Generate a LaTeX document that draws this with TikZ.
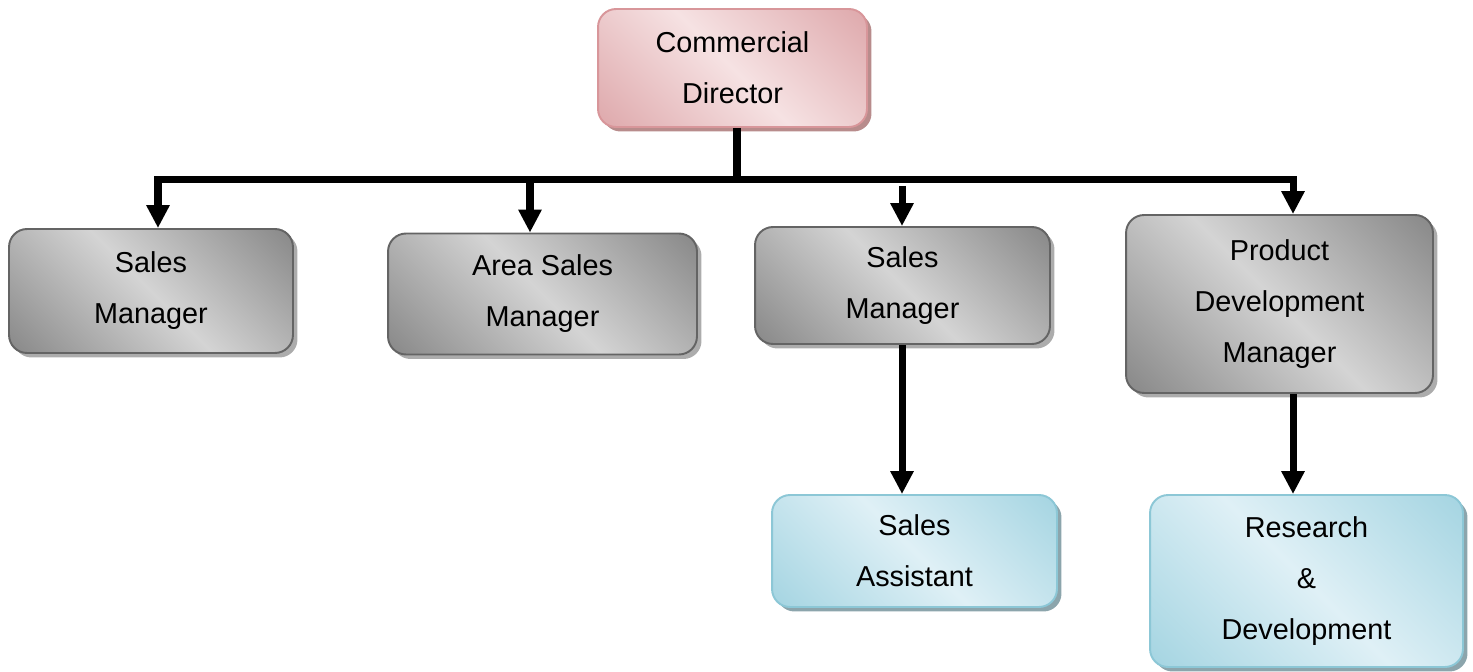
\documentclass[tikz,border=0pt]{standalone}
\usepackage{fontspec}
\setmainfont{Liberation Sans}
\usepackage{xcolor}
\usepackage{tikz}
\usetikzlibrary{arrows.meta,shadows}
\definecolor{greydark}{RGB}{104,104,104}
\definecolor{greylight}{RGB}{212,212,212}
\definecolor{greyedge}{RGB}{100,100,100}
\definecolor{greyshadow}{RGB}{172,172,172}
\definecolor{rosedark}{RGB}{212,144,148}
\definecolor{roselight}{RGB}{246,226,227}
\definecolor{roseedge}{RGB}{216,150,154}
\definecolor{roseshadow}{RGB}{184,140,140}
\definecolor{skydark}{RGB}{140,201,217}
\definecolor{skylight}{RGB}{223,240,246}
\definecolor{skyedge}{RGB}{140,199,214}
\definecolor{skyshadow}{RGB}{140,165,172}
\pgfdeclareverticalshading{greyshade}{100bp}{color(0bp)=(greydark); color(50bp)=(greylight); color(100bp)=(greydark)}
\pgfdeclareverticalshading{roseshade}{100bp}{color(0bp)=(rosedark); color(50bp)=(roselight); color(100bp)=(rosedark)}
\pgfdeclareverticalshading{skyshade}{100bp}{color(0bp)=(skydark); color(50bp)=(skylight); color(100bp)=(skydark)}

\begin{document}
\begin{tikzpicture}[x=0.02cm, y=-0.02cm,
    box/.style={line width=1.1pt, rounded corners=0.36cm, align=center,
        font=\fontsize{16.4}{29}\selectfont, inner sep=0pt, shade, shading angle=135},
    greybox/.style={box, draw=greyedge, shading=greyshade,
        drop shadow={shadow xshift=0.09cm, shadow yshift=-0.09cm, fill=greyshadow, opacity=1}},
    rosebox/.style={box, draw=roseedge, shading=roseshade,
        drop shadow={shadow xshift=0.09cm, shadow yshift=-0.09cm, fill=roseshadow, opacity=1}},
    skybox/.style={box, draw=skyedge, shading=skyshade,
        drop shadow={shadow xshift=0.09cm, shadow yshift=-0.09cm, fill=skyshadow, opacity=1}},
    link/.style={line width=4pt},
    arr/.style={line width=4pt, -{Triangle[width=12.5pt,length=13pt]}}]
    \useasboundingbox (0,0) rectangle (1473,672);

    % Director
    \node[rosebox, minimum width=5.38cm, minimum height=2.36cm] (director) at (732.5,68) {Commercial\\Director};

    % Managers
    \node[greybox, minimum width=5.68cm, minimum height=2.48cm] (sales1) at (151,291) {Sales\\Manager};
    \node[greybox, minimum width=6.18cm, minimum height=2.42cm] (area) at (542.5,294) {Area Sales\\Manager};
    \node[greybox, minimum width=5.90cm, minimum height=2.34cm] (sales2) at (902.5,285.5) {Sales\\Manager};
    \node[greybox, minimum width=6.14cm, minimum height=3.56cm] (product) at (1279.5,304) {Product\\Development\\Manager};

    % Staff
    \node[skybox, minimum width=5.70cm, minimum height=2.24cm] (assist) at (914.5,551) {Sales\\Assistant};
    \node[skybox, minimum width=6.26cm, minimum height=3.44cm] (research) at (1306.5,581) {Research\\\&\\Development};

    % Bus
    \coordinate (busL) at (158,179.5);
    \coordinate (busR) at (1293,179.5);
    \coordinate (tapdir) at (737,179.5);
    \coordinate (tap2) at (530,179.5);
    \coordinate (tap3) at (902,186);

    \draw[link] (director.south -| tapdir) -- (tapdir);
    \draw[arr, {Triangle[width=12.5pt,length=13pt]}-{Triangle[width=12.5pt,length=13pt]}]
        (busL |- sales1.north) -- (busL) -- (busR) -- (busR |- product.north);
    \draw[arr] (tap2) -- (tap2 |- area.north);
    \draw[arr] (tap3) -- (tap3 |- sales2.north);

    % Down links
    \draw[arr] (sales2.south -| tap3) -- (tap3 |- assist.north);
    \draw[arr] (product.south -| busR) -- (busR |- research.north);
\end{tikzpicture}
\end{document}
